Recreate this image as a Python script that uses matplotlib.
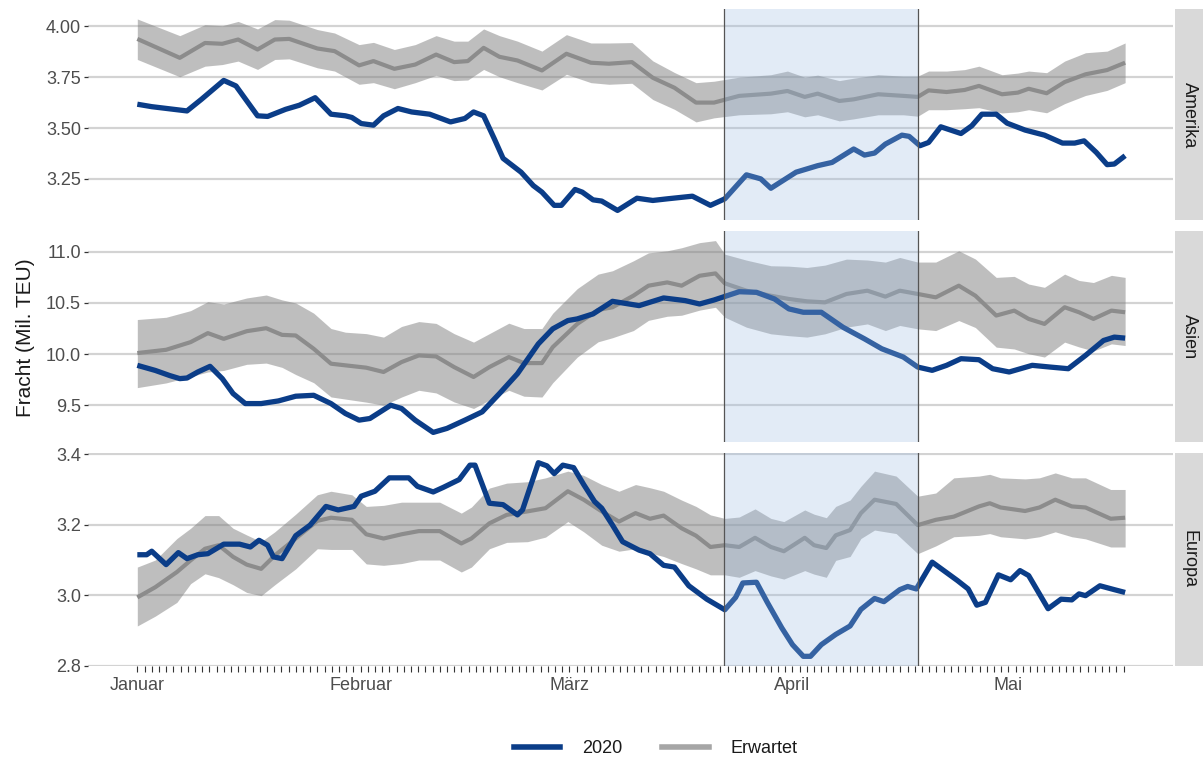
import matplotlib
matplotlib.use('Agg')
import matplotlib.pyplot as plt
from matplotlib.lines import Line2D
from matplotlib.ticker import FormatStrFormatter, FixedLocator
import numpy as np

plt.rcParams['font.family'] = ['Liberation Sans Narrow', 'Liberation Sans', 'DejaVu Sans']

# Tage seit 1. Januar 2020
monat_tage = [0, 31, 60, 91, 121]
monat_namen = ['Januar', 'Februar', 'März', 'April', 'Mai']
letzter_tag = 137
lockdown_start = 81.5
lockdown_ende = 108.5

# --- Amerika ---
am_tag = [0, 2.0, 6.9, 8.9, 12.0, 13.7, 16.7, 18.1, 20.6, 22.5, 24.7, 26.9, 28.9, 29.8, 31.1,
          32.8, 34.2, 36.2, 38.1, 40.6, 43.5, 45.5, 46.7, 48.1, 49.6, 50.8, 53.3, 55.0, 56.2,
          57.9, 58.9, 60.8, 61.8, 63.3, 64.5, 66.7, 69.4, 71.6, 73.6, 77.1, 79.6, 81.6, 84.6,
          86.6, 88.0, 91.5, 94.5, 96.5, 99.5, 101.0, 102.4, 103.9, 106.2, 107.2, 108.7, 109.9,
          111.6, 114.4, 115.9, 117.3, 119.3, 120.8, 123.3, 126.0, 128.5, 130.2, 131.5, 133.2,
          134.7, 135.7, 137.2]
am_2020 = [3.617, 3.605, 3.584, 3.641, 3.734, 3.707, 3.56, 3.557, 3.592, 3.612, 3.649, 3.568,
           3.56, 3.552, 3.522, 3.514, 3.56, 3.596, 3.579, 3.568, 3.53, 3.547, 3.579, 3.56, 3.446,
           3.351, 3.283, 3.217, 3.185, 3.12, 3.12, 3.198, 3.185, 3.147, 3.141, 3.095, 3.155,
           3.144, 3.152, 3.165, 3.12, 3.152, 3.27, 3.25, 3.204, 3.283, 3.315, 3.331, 3.397,
           3.367, 3.377, 3.421, 3.465, 3.459, 3.413, 3.429, 3.506, 3.473, 3.511, 3.568, 3.568,
           3.524, 3.49, 3.465, 3.426, 3.426, 3.437, 3.38, 3.32, 3.323, 3.364]
am_e_tag = [0, 5.9, 9.4, 11.8, 14.0, 16.7, 19.1, 21.1, 25.0, 27.4, 30.8, 32.8, 35.7, 38.6,
            41.5, 44.0, 45.9, 48.1, 50.3, 52.8, 56.2, 59.6, 63.0, 65.5, 68.7, 71.6, 74.6, 77.6,
            80.1, 83.6, 88.0, 90.3, 92.7, 94.5, 97.5, 99.5, 102.9, 106.4, 108.4, 109.9, 112.4,
            114.9, 116.9, 120.1, 122.3, 123.8, 126.3, 128.8, 131.7, 134.7, 137.2]
am_erw = [3.938, 3.845, 3.918, 3.914, 3.935, 3.886, 3.935, 3.938, 3.891, 3.878, 3.808, 3.829,
          3.791, 3.812, 3.861, 3.824, 3.829, 3.894, 3.85, 3.832, 3.783, 3.865, 3.821, 3.816,
          3.824, 3.747, 3.698, 3.625, 3.625, 3.658, 3.669, 3.682, 3.653, 3.669, 3.633, 3.641,
          3.666, 3.658, 3.653, 3.685, 3.677, 3.687, 3.707, 3.666, 3.674, 3.693, 3.671, 3.726,
          3.764, 3.785, 3.821]
am_unten = [3.837, 3.752, 3.804, 3.812, 3.829, 3.788, 3.837, 3.84, 3.796, 3.78, 3.715, 3.723,
            3.693, 3.723, 3.759, 3.733, 3.736, 3.788, 3.752, 3.723, 3.687, 3.764, 3.723, 3.715,
            3.72, 3.64, 3.592, 3.53, 3.55, 3.565, 3.57, 3.58, 3.555, 3.565, 3.535, 3.545, 3.565,
            3.565, 3.558, 3.59, 3.59, 3.595, 3.6, 3.574, 3.58, 3.59, 3.575, 3.62, 3.66, 3.685,
            3.723]
am_oben = [4.036, 3.954, 4.008, 4.003, 4.024, 3.987, 4.033, 4.03, 3.984, 3.967, 3.91, 3.921,
           3.886, 3.91, 3.954, 3.927, 3.927, 3.987, 3.954, 3.927, 3.878, 3.959, 3.918, 3.918,
           3.92, 3.83, 3.773, 3.723, 3.73, 3.75, 3.762, 3.78, 3.75, 3.76, 3.733, 3.745, 3.762,
           3.755, 3.755, 3.78, 3.78, 3.787, 3.804, 3.762, 3.77, 3.78, 3.772, 3.829, 3.87, 3.878,
           3.918]

# --- Asien ---
as_tag = [0, 2.5, 4.5, 5.9, 6.9, 8.4, 10.1, 11.8, 13.3, 15.0, 17.2, 19.6, 22.0, 24.5, 26.9,
          28.9, 30.8, 32.3, 35.2, 36.7, 38.6, 41.1, 43.0, 45.5, 47.9, 50.3, 52.8, 55.7, 57.7,
          59.8, 61.1, 63.3, 66.0, 69.7, 73.1, 76.1, 78.1, 80.1, 83.6, 86.0, 88.5, 90.5, 92.5,
          95.0, 98.0, 101.0, 103.4, 106.4, 108.4, 110.4, 112.4, 114.4, 116.9, 118.8, 121.1,
          124.3, 126.8, 129.3, 131.7, 134.2, 135.7, 137.2]
as_2020 = [9.89, 9.84, 9.79, 9.76, 9.766, 9.825, 9.88, 9.76, 9.614, 9.516, 9.516, 9.542, 9.588,
           9.597, 9.516, 9.419, 9.354, 9.37, 9.5, 9.468, 9.354, 9.234, 9.273, 9.354, 9.435,
           9.614, 9.808, 10.1, 10.247, 10.328, 10.344, 10.393, 10.516, 10.474, 10.549, 10.523,
           10.49, 10.529, 10.61, 10.604, 10.539, 10.442, 10.409, 10.409, 10.263, 10.149, 10.052,
           9.971, 9.873, 9.841, 9.89, 9.955, 9.945, 9.857, 9.825, 9.89, 9.873, 9.857, 9.987,
           10.133, 10.166, 10.156]
as_e_tag = [0, 4.0, 7.4, 9.8, 12.0, 15.2, 17.9, 20.1, 22.0, 24.5, 26.9, 28.9, 31.8, 34.2, 36.7,
            39.1, 41.5, 44.0, 46.7, 48.9, 51.6, 53.7, 56.2, 57.7, 61.1, 64.0, 66.0, 68.9, 71.0,
            73.6, 75.6, 78.1, 80.3, 81.6, 84.6, 88.0, 90.5, 93.0, 95.5, 98.5, 101.4, 103.9,
            105.9, 108.4, 110.9, 114.1, 116.4, 119.3, 121.8, 123.8, 126.0, 128.8, 130.8, 132.8,
            135.3, 137.2]
as_erw = [10.01, 10.042, 10.117, 10.205, 10.149, 10.224, 10.253, 10.188, 10.182, 10.052, 9.906,
          9.89, 9.867, 9.825, 9.922, 9.987, 9.977, 9.873, 9.776, 9.873, 9.971, 9.912, 9.912,
          10.068, 10.295, 10.432, 10.458, 10.571, 10.669, 10.701, 10.669, 10.766, 10.789,
          10.692, 10.62, 10.571, 10.539, 10.516, 10.506, 10.588, 10.62, 10.562, 10.62, 10.588,
          10.555, 10.669, 10.571, 10.377, 10.425, 10.344, 10.295, 10.458, 10.409, 10.344,
          10.425, 10.409]
as_unten = [9.672, 9.718, 9.78, 9.825, 9.84, 9.9, 9.912, 9.87, 9.8, 9.72, 9.581, 9.56, 9.53,
            9.5, 9.58, 9.646, 9.62, 9.532, 9.468, 9.55, 9.646, 9.588, 9.58, 9.72, 9.97, 10.12,
            10.16, 10.23, 10.33, 10.37, 10.38, 10.43, 10.458, 10.36, 10.263, 10.198, 10.18,
            10.166, 10.198, 10.263, 10.295, 10.23, 10.28, 10.247, 10.23, 10.328, 10.26, 10.068,
            10.05, 10.003, 9.971, 10.117, 10.07, 10.03, 10.1, 10.084]
as_oben = [10.338, 10.36, 10.425, 10.513, 10.49, 10.549, 10.578, 10.53, 10.5, 10.4, 10.25,
           10.214, 10.2, 10.166, 10.27, 10.318, 10.3, 10.2, 10.117, 10.2, 10.302, 10.25, 10.25,
           10.4, 10.64, 10.782, 10.815, 10.912, 10.99, 11.01, 11.04, 11.09, 11.11, 10.977,
           10.919, 10.864, 10.86, 10.847, 10.87, 10.929, 10.92, 10.9, 10.945, 10.9, 10.9, 11.01,
           10.93, 10.75, 10.76, 10.685, 10.653, 10.782, 10.72, 10.7, 10.77, 10.75]

# --- Europa ---
eu_tag = [0, 1.3, 2.0, 4.0, 5.7, 6.9, 8.4, 9.8, 12.0, 14.2, 15.7, 16.9, 18.1, 18.9, 20.1, 22.0,
          24.0, 26.2, 27.9, 30.1, 31.1, 33.0, 35.0, 37.7, 38.9, 41.1, 42.5, 44.7, 46.2, 46.9,
          48.9, 50.8, 52.8, 53.5, 55.7, 56.9, 57.9, 59.1, 60.6, 62.0, 63.5, 64.5, 66.0, 67.4,
          69.7, 71.2, 73.1, 74.6, 76.6, 79.1, 81.6, 83.1, 84.1, 86.0, 87.5, 89.5, 91.0, 92.5,
          93.5, 95.0, 97.0, 99.0, 100.5, 102.4, 103.7, 105.9, 107.0, 108.2, 110.4, 113.9, 115.4,
          116.6, 117.8, 119.6, 121.3, 122.6, 123.8, 126.5, 128.3, 129.8, 130.8, 131.7, 133.7,
          135.7, 137.2]
eu_2020 = [3.115, 3.115, 3.125, 3.087, 3.121, 3.104, 3.115, 3.118, 3.145, 3.145, 3.137, 3.156,
           3.142, 3.109, 3.104, 3.169, 3.199, 3.252, 3.242, 3.252, 3.281, 3.295, 3.333, 3.333,
           3.309, 3.293, 3.306, 3.328, 3.369, 3.369, 3.261, 3.257, 3.228, 3.242, 3.376, 3.367,
           3.345, 3.369, 3.362, 3.314, 3.266, 3.247, 3.199, 3.152, 3.128, 3.118, 3.085, 3.08,
           3.027, 2.989, 2.959, 2.994, 3.035, 3.037, 2.98, 2.908, 2.86, 2.827, 2.827, 2.86,
           2.889, 2.913, 2.96, 2.991, 2.982, 3.016, 3.025, 3.018, 3.094, 3.042, 3.018, 2.972,
           2.98, 3.058, 3.044, 3.07, 3.056, 2.962, 2.989, 2.987, 3.004, 2.999, 3.027, 3.016,
           3.008]
eu_e_tag = [0, 2.5, 5.5, 7.4, 9.4, 11.3, 13.3, 15.2, 17.2, 19.1, 22.0, 25.0, 26.9, 29.8, 31.8,
            34.2, 36.7, 39.1, 42.0, 45.0, 46.4, 48.9, 51.3, 54.2, 56.7, 59.8, 62.0, 64.5, 66.9,
            69.2, 71.2, 73.1, 75.6, 77.6, 79.6, 81.6, 83.6, 85.8, 88.0, 89.8, 92.7, 94.0, 95.7,
            97.0, 99.0, 100.5, 102.4, 105.4, 108.4, 110.9, 113.4, 116.9, 118.4, 119.9, 123.3,
            125.3, 127.5, 129.8, 131.7, 135.2, 137.2]
eu_erw = [2.994, 3.023, 3.066, 3.099, 3.132, 3.142, 3.109, 3.087, 3.075, 3.113, 3.161, 3.211,
          3.22, 3.214, 3.173, 3.161, 3.173, 3.182, 3.182, 3.147, 3.161, 3.204, 3.228, 3.238,
          3.247, 3.295, 3.271, 3.238, 3.209, 3.233, 3.217, 3.226, 3.19, 3.169, 3.137, 3.142,
          3.137, 3.163, 3.137, 3.125, 3.163, 3.142, 3.134, 3.17, 3.185, 3.233, 3.271, 3.259,
          3.199, 3.214, 3.223, 3.252, 3.261, 3.249, 3.239, 3.249, 3.271, 3.252, 3.249, 3.217,
          3.22]
eu_unten = [2.913, 2.941, 2.98, 3.033, 3.061, 3.05, 3.03, 3.008, 2.999, 3.03, 3.075, 3.132,
            3.13, 3.13, 3.089, 3.085, 3.09, 3.1, 3.1, 3.066, 3.08, 3.132, 3.15, 3.152, 3.165,
            3.209, 3.18, 3.142, 3.125, 3.132, 3.12, 3.11, 3.09, 3.075, 3.058, 3.058, 3.051, 3.07,
            3.055, 3.046, 3.07, 3.06, 3.051, 3.099, 3.11, 3.161, 3.185, 3.175, 3.118, 3.14,
            3.166, 3.17, 3.175, 3.166, 3.16, 3.166, 3.18, 3.166, 3.16, 3.137, 3.137]
eu_oben = [3.08, 3.1, 3.161, 3.19, 3.226, 3.226, 3.19, 3.171, 3.152, 3.18, 3.23, 3.285, 3.295,
           3.285, 3.252, 3.255, 3.264, 3.264, 3.264, 3.233, 3.25, 3.304, 3.318, 3.322, 3.333,
           3.352, 3.34, 3.314, 3.295, 3.314, 3.305, 3.295, 3.27, 3.252, 3.228, 3.218, 3.222,
           3.245, 3.218, 3.209, 3.242, 3.23, 3.22, 3.252, 3.27, 3.309, 3.352, 3.338, 3.281, 3.29,
           3.333, 3.338, 3.343, 3.333, 3.33, 3.333, 3.347, 3.333, 3.333, 3.3, 3.3]

regionen = ['Amerika', 'Asien', 'Europa']
daten = {
    'Amerika': (am_tag, am_2020, am_e_tag, am_erw, am_unten, am_oben),
    'Asien': (as_tag, as_2020, as_e_tag, as_erw, as_unten, as_oben),
    'Europa': (eu_tag, eu_2020, eu_e_tag, eu_erw, eu_unten, eu_oben),
}
y_ticks = {
    'Amerika': [3.25, 3.50, 3.75, 4.00],
    'Asien': [9.5, 10.0, 10.5, 11.0],
    'Europa': [2.8, 3.0, 3.2, 3.4],
}
y_format = {'Amerika': '%.2f', 'Asien': '%.1f', 'Europa': '%.1f'}

blau = '#0b3d88'
grau = '#8c8c8c'
textgrau = '#4d4d4d'

W, H = 1203, 770
fig = plt.figure(figsize=(W / 100, H / 100), dpi=100)

# panel positions in pixels (top, bottom)
panels = [(9.4, 220), (231, 442), (453, 666)]
left_px, right_px = 88, 1173
strip_l, strip_r = 1175, 1203

for i, reg in enumerate(regionen):
    top, bot = panels[i]
    ax = fig.add_axes([left_px / W, 1 - bot / H, (right_px - left_px) / W, (bot - top) / H])
    tag, v2020, etag, erw, unten, oben = daten[reg]

    ax.fill_between(etag, unten, oben, color='#7f7f7f', alpha=0.5, lw=0, zorder=2)
    ax.plot(etag, erw, color=grau, lw=3.0, zorder=3, solid_capstyle='butt')
    ax.plot(tag, v2020, color=blau, lw=3.8, zorder=4, solid_capstyle='butt',
            solid_joinstyle='round')

    ax.margins(x=0.05, y=0.05)
    ax.axvspan(lockdown_start, lockdown_ende, facecolor='#9dbde3', alpha=0.29,
               edgecolor='none', zorder=5)
    ax.axvline(lockdown_start, color='#555555', lw=0.9, zorder=6)
    ax.axvline(lockdown_ende, color='#555555', lw=0.9, zorder=6)

    ax.set_axisbelow(True)
    ax.yaxis.set_major_locator(FixedLocator(y_ticks[reg]))
    ax.yaxis.set_major_formatter(FormatStrFormatter(y_format[reg]))
    ax.grid(axis='y', color='#d3d3d3', lw=1.6, zorder=0)
    ax.tick_params(axis='y', labelsize=13, colors='#333333', labelcolor=textgrau,
                   length=3, width=0.9, pad=2)
    for s in ax.spines.values():
        s.set_visible(False)

    if i == 2:
        ax.set_xticks(monat_tage)
        ax.set_xticklabels(monat_namen)
        ax.set_xticks(np.arange(0, letzter_tag + 1), minor=True)
        ax.tick_params(axis='x', which='both', length=4, width=0.8, colors='#333333',
                       labelcolor=textgrau, labelsize=13, pad=4)
    else:
        ax.set_xticks([])
    ax.set_xlim(-0.05 * letzter_tag, letzter_tag * 1.05)

    # facet strip
    sax = fig.add_axes([strip_l / W, 1 - bot / H, (strip_r - strip_l) / W, (bot - top) / H])
    sax.set_facecolor('#d9d9d9')
    sax.set_xticks([])
    sax.set_yticks([])
    for s in sax.spines.values():
        s.set_visible(False)
    sax.text(0.5, 0.5, reg, rotation=-90, ha='center', va='center', fontsize=13,
             color='#1a1a1a', transform=sax.transAxes)

fig.text(0.021, 0.561, 'Fracht (Mil. TEU)', rotation=90, ha='center', va='center',
         fontsize=15, color='#1a1a1a')

handles = [Line2D([], [], color=blau, lw=4),
           Line2D([], [], color='#a6a6a6', lw=4)]
fig.legend(handles, ['2020', 'Erwartet'], loc='lower center', bbox_to_anchor=(0.545, -0.004),
           ncol=2, frameon=False, fontsize=13, handlelength=2.6, columnspacing=2.2,
           handletextpad=1.2, labelcolor='#1a1a1a')

fig.savefig('out.png', dpi=100)
